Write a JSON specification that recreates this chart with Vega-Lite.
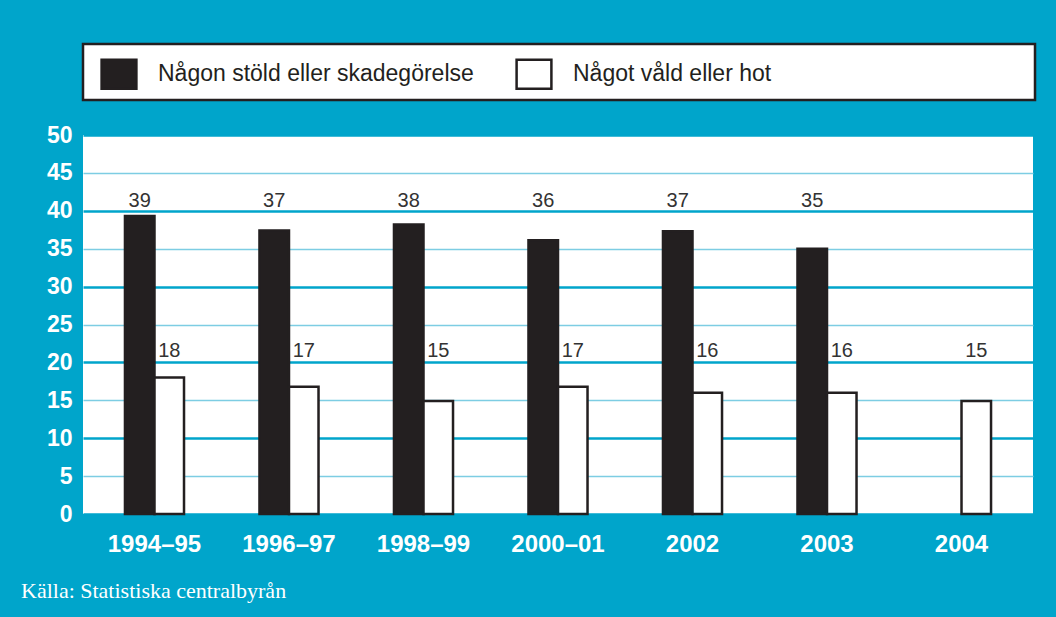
{
  "$schema": "https://vega.github.io/schema/vega-lite/v6.json",
  "background": "#00a5cb",
  "padding": {"left": 21, "top": 42, "right": 19, "bottom": 15},
  "bounds": "flush",
  "spacing": 35,
  "title": {
    "text": "Källa: Statistiska centralbyrån",
    "orient": "bottom",
    "anchor": "start",
    "frame": "group",
    "baseline": "alphabetic",
    "offset": 42,
    "dx": -62,
    "font": "Liberation Serif",
    "fontSize": 22,
    "fontWeight": "normal",
    "color": "#ffffff"
  },
  "config": {
    "view": {"stroke": null}
  },
  "resolve": {"scale": {"fill": "independent"}, "legend": {"fill": "independent"}},
  "vconcat": [
    {
      "width": 952,
      "height": 56,
      "view": {"fill": "#ffffff", "stroke": "#231f20", "strokeWidth": 2.5},
      "data": {"values": []},
      "mark": "rect",
      "encoding": {}
    },
    {
      "width": 950,
      "height": 379,
      "view": {"fill": "#ffffff", "stroke": null},
      "data": {
        "values": [
          {"period": "1994–95", "series": "Någon stöld eller skadegörelse", "value": 39.3},
          {"period": "1994–95", "series": "Något våld eller hot", "value": 18.0},
          {"period": "1996–97", "series": "Någon stöld eller skadegörelse", "value": 37.4},
          {"period": "1996–97", "series": "Något våld eller hot", "value": 16.8},
          {"period": "1998–99", "series": "Någon stöld eller skadegörelse", "value": 38.2},
          {"period": "1998–99", "series": "Något våld eller hot", "value": 14.9},
          {"period": "2000–01", "series": "Någon stöld eller skadegörelse", "value": 36.1},
          {"period": "2000–01", "series": "Något våld eller hot", "value": 16.8},
          {"period": "2002", "series": "Någon stöld eller skadegörelse", "value": 37.3},
          {"period": "2002", "series": "Något våld eller hot", "value": 16.0},
          {"period": "2003", "series": "Någon stöld eller skadegörelse", "value": 35.0},
          {"period": "2003", "series": "Något våld eller hot", "value": 16.0},
          {"period": "2004", "series": "Något våld eller hot", "value": 14.9}
        ]
      },
      "encoding": {
        "x": {
          "field": "period",
          "type": "nominal",
          "sort": null,
          "title": null,
          "scale": {"paddingInner": 0.561, "paddingOuter": 0.312},
          "axis": {
            "domain": false,
            "ticks": false,
            "labelAngle": 0,
            "labelPadding": 18,
            "labelFont": "Liberation Sans",
            "labelFontSize": 24,
            "labelFontWeight": "bold",
            "labelColor": "#ffffff"
          }
        },
        "xOffset": {
          "field": "series",
          "type": "nominal",
          "sort": ["Någon stöld eller skadegörelse", "Något våld eller hot"],
          "scale": {"domain": ["Någon stöld eller skadegörelse", "Något våld eller hot"], "paddingInner": 0, "paddingOuter": 0}
        }
      },
      "layer": [
        {
          "mark": {"type": "bar", "stroke": "#231f20", "strokeWidth": 2.5},
          "encoding": {
            "y": {
              "field": "value",
              "type": "quantitative",
              "title": null,
              "scale": {"domain": [0, 50], "nice": false},
              "axis": {
                "values": [0, 5, 10, 15, 20, 25, 30, 35, 40, 45, 50],
                "labelOverlap": false,
                "domain": false,
                "ticks": false,
                "labelPadding": 11,
                "labelFont": "Liberation Sans",
                "labelFontSize": 23,
                "labelFontWeight": "bold",
                "labelColor": "#ffffff",
                "grid": true,
                "gridColor": {"condition": {"test": "datum.value % 10 === 0", "value": "#00a5cb"}, "value": "#7dcde3"},
                "gridWidth": {"condition": {"test": "datum.value % 10 === 0", "value": 2.5}, "value": 1.5},
                "gridOpacity": 1
              }
            },
            "fill": {
              "field": "series",
              "type": "nominal",
              "sort": ["Någon stöld eller skadegörelse", "Något våld eller hot"],
              "scale": {"domain": ["Någon stöld eller skadegörelse", "Något våld eller hot"], "range": ["#231f20", "#ffffff"]},
              "legend": {
                "title": null,
                "orient": "none",
                "legendX": 20,
                "legendY": -77,
                "direction": "horizontal",
                "padding": 0,
                "symbolType": "M-1.2,-1H1.2V1H-1.2Z",
                "symbolSize": 841,
                "symbolStrokeColor": "#231f20",
                "symbolStrokeWidth": 2.5,
                "symbolOpacity": 1,
                "labelFont": "Liberation Sans",
                "labelFontSize": 23,
                "labelColor": "#231f20",
                "labelOffset": 23,
                "labelLimit": 500,
                "columnPadding": 37
              }
            }
          }
        },
        {
          "transform": [{"filter": "datum.series === 'Någon stöld eller skadegörelse'"}],
          "mark": {"type": "text", "baseline": "alphabetic", "dy": -4, "font": "Liberation Sans", "fontSize": 20, "color": "#333333"},
          "encoding": {
            "y": {
              "datum": 40,
              "type": "quantitative",
              "scale": {"domain": [0, 50], "nice": false},
              "axis": {
                "values": [0, 5, 10, 15, 20, 25, 30, 35, 40, 45, 50],
                "labelOverlap": false,
                "domain": false,
                "ticks": false,
                "labelPadding": 11,
                "labelFont": "Liberation Sans",
                "labelFontSize": 23,
                "labelFontWeight": "bold",
                "labelColor": "#ffffff",
                "grid": true,
                "gridColor": {"condition": {"test": "datum.value % 10 === 0", "value": "#00a5cb"}, "value": "#7dcde3"},
                "gridWidth": {"condition": {"test": "datum.value % 10 === 0", "value": 2.5}, "value": 1.5},
                "gridOpacity": 1
              }
            },
            "text": {"field": "value", "type": "quantitative", "format": ".0f"}
          }
        },
        {
          "transform": [{"filter": "datum.series === 'Något våld eller hot'"}],
          "mark": {"type": "text", "baseline": "alphabetic", "dy": -5, "font": "Liberation Sans", "fontSize": 20, "color": "#333333"},
          "encoding": {
            "y": {
              "datum": 20,
              "type": "quantitative",
              "scale": {"domain": [0, 50], "nice": false},
              "axis": {
                "values": [0, 5, 10, 15, 20, 25, 30, 35, 40, 45, 50],
                "labelOverlap": false,
                "domain": false,
                "ticks": false,
                "labelPadding": 11,
                "labelFont": "Liberation Sans",
                "labelFontSize": 23,
                "labelFontWeight": "bold",
                "labelColor": "#ffffff",
                "grid": true,
                "gridColor": {"condition": {"test": "datum.value % 10 === 0", "value": "#00a5cb"}, "value": "#7dcde3"},
                "gridWidth": {"condition": {"test": "datum.value % 10 === 0", "value": 2.5}, "value": 1.5},
                "gridOpacity": 1
              }
            },
            "text": {"field": "value", "type": "quantitative", "format": ".0f"}
          }
        }
      ]
    }
  ]
}
